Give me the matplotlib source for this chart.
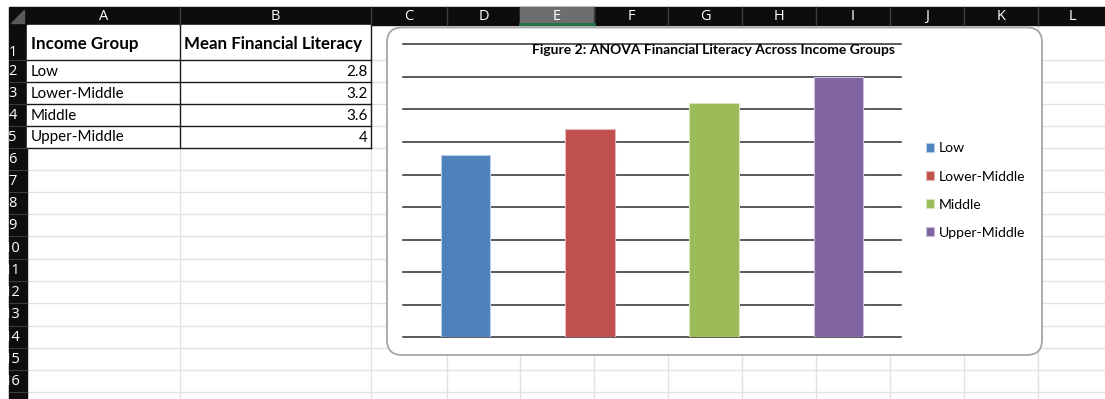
import matplotlib
matplotlib.use("Agg")
import matplotlib.pyplot as plt
from matplotlib.patches import Rectangle, FancyBboxPatch, Polygon
import numpy as np

# Sheet data
groups = ["Low", "Lower-Middle", "Middle", "Upper-Middle"]
means = [2.8, 3.2, 3.6, 4.0]
header = ["Income Group", "Mean Financial Literacy"]
col_letters = ["A", "B", "C", "D", "E", "F", "G", "H", "I", "J", "K", "L"]
row_numbers = list(range(1, 17))
bar_colors = ["#4F81BD", "#C0504D", "#9BBB59", "#8064A2"]
bar_edges = ["#B9CDE5", "#E6B9B8", "#D7E4BD", "#CCC1DA"]
title = "Figure 2: ANOVA Financial Literacy Across Income Groups"

W, H = 1105, 399
plt.rcParams["font.family"] = ["Lato", "DejaVu Sans"]

fig = plt.figure(figsize=(W / 100, H / 100), dpi=100)
bg = fig.add_axes([0, 0, 1, 1])
bg.set_xlim(0, W)
bg.set_ylim(H, 0)
bg.axis("off")

# column / row geometry of the sheet (pixels)
col_edges = [27, 180, 371, 447, 520, 594, 668, 742, 816, 890, 964, 1038, 1112]
row_edges = [25, 60, 82, 104, 126, 148, 170, 192, 214, 236, 259, 281, 303, 326, 348, 370, 392, 414]
hdr_top, hdr_bot = 7, 25
rh_left, rh_right = 9, 27

# light cell grid
for x in col_edges[1:]:
    bg.plot([x, x], [hdr_bot, H], color="#e1e1e1", lw=1, zorder=1)
for y in row_edges[1:]:
    bg.plot([rh_right, W], [y, y], color="#e1e1e1", lw=1, zorder=1)

# column header band
bg.add_patch(Rectangle((rh_left, hdr_top), W - rh_left, hdr_bot - hdr_top, color="#0d0d0d", zorder=2))
for i, letter in enumerate(col_letters):
    x0, x1 = col_edges[i], col_edges[i + 1]
    if letter == "E":
        bg.add_patch(Rectangle((x0, hdr_top), x1 - x0, hdr_bot - hdr_top, color="#6e6e6e", zorder=3))
        bg.plot([x0, x1], [hdr_bot - 1, hdr_bot - 1], color="#217346", lw=2, zorder=4)
    bg.plot([x1, x1], [hdr_top, hdr_bot], color="#3c3c3c", lw=1, zorder=3)
    xc = (x0 + x1) / 2 if letter != "L" else (x0 + x1) / 2 - 3
    bg.text(xc, (hdr_top + hdr_bot) / 2 + 0.5, letter, color="white", fontsize=10.5,
            ha="center", va="center", zorder=5, family=["Open Sans", "DejaVu Sans"])

# row header band
bg.add_patch(Rectangle((rh_left, hdr_bot), rh_right - rh_left, H - hdr_bot, color="#0d0d0d", zorder=2))
corner = Polygon([[24, 10], [24, 23], [11, 23]], closed=True, color="#5a5a5a", zorder=4)
bg.add_patch(corner)
clip = Rectangle((rh_left, hdr_bot), rh_right - rh_left, H - hdr_bot, transform=bg.transData)
for i, n in enumerate(row_numbers):
    y0, y1 = row_edges[i], row_edges[i + 1]
    ty = y1 - 7 if n == 1 else (y0 + y1) / 2 + 0.5
    t = bg.text(12.5, ty, str(n), color="white", fontsize=10.5, ha="center", va="center", zorder=5,
                family=["Open Sans", "DejaVu Sans"])
    t.set_clip_path(clip)
    bg.plot([rh_left, rh_right], [y1, y1], color="#3c3c3c", lw=0.8, zorder=3)

# data table A1:B5
tab_bot = row_edges[5]
bg.add_patch(Rectangle((rh_right, hdr_bot), col_edges[2] - rh_right, tab_bot - hdr_bot, color="white", zorder=2))
for y in row_edges[1:6]:
    bg.plot([rh_right, col_edges[2]], [y, y], color="#1a1a1a", lw=1, zorder=3)
for x in col_edges[1:3]:
    bg.plot([x, x], [hdr_bot, tab_bot], color="#1a1a1a", lw=1, zorder=3)
bg.text(31, 44, header[0], fontsize=12.2, fontweight="bold", va="center", zorder=4)
bg.text(184, 44, header[1], fontsize=12.2, fontweight="bold", va="center", zorder=4)
for i, (g, v) in enumerate(zip(groups, means)):
    yc = (row_edges[i + 1] + row_edges[i + 2]) / 2 + 0.5
    bg.text(31, yc, g, fontsize=10.9, va="center", zorder=4)
    bg.text(368, yc, f"{v:g}", fontsize=10.9, va="center", ha="right", zorder=4)

# chart frame
bg.add_patch(FancyBboxPatch((387, 27.5), 1042 - 387, 355 - 27.5,
                            boxstyle="round,pad=0,rounding_size=15",
                            facecolor="white", edgecolor="#a6a6a6", lw=1.3, zorder=6))

# chart plot area
pl, pr, pt, pb = 403.3, 900.7, 44.3, 337.3
ax = fig.add_axes([pl / W, (H - pb) / H, (pr - pl) / W, (pb - pt) / H])
ax.set_zorder(10)
ax.patch.set_alpha(0)
ax.set_xlim(-0.5, len(groups) - 0.5)
ax.set_ylim(0, 4.5)
for s in ax.spines.values():
    s.set_visible(False)
ax.set_xticks([])
ax.set_yticks([])
for y in np.arange(0, 4.51, 0.5):
    ax.axhline(y, color="#2e2e2e", lw=1.1, zorder=1, clip_on=False)
handles = []
for i, (g, v) in enumerate(zip(groups, means)):
    b = ax.bar(i, v, width=0.4, color=bar_colors[i], edgecolor=bar_edges[i], lw=0.8, zorder=2, label=g)
    handles.append(b)

fig.text(714 / W, 1 - 50 / H, title, fontsize=10, fontweight="bold", ha="center", va="center", zorder=12)

leg = ax.legend(handles=handles, labels=groups, loc="center left",
                bbox_to_anchor=(926 / W, 1 - 190.6 / H), bbox_transform=fig.transFigure,
                frameon=False, fontsize=10.1, borderpad=0, borderaxespad=0,
                handlelength=0.6, handleheight=0.6,
                handletextpad=0.3, labelspacing=1.15)
leg.set_zorder(12)

fig.savefig("out.png", dpi=100)
